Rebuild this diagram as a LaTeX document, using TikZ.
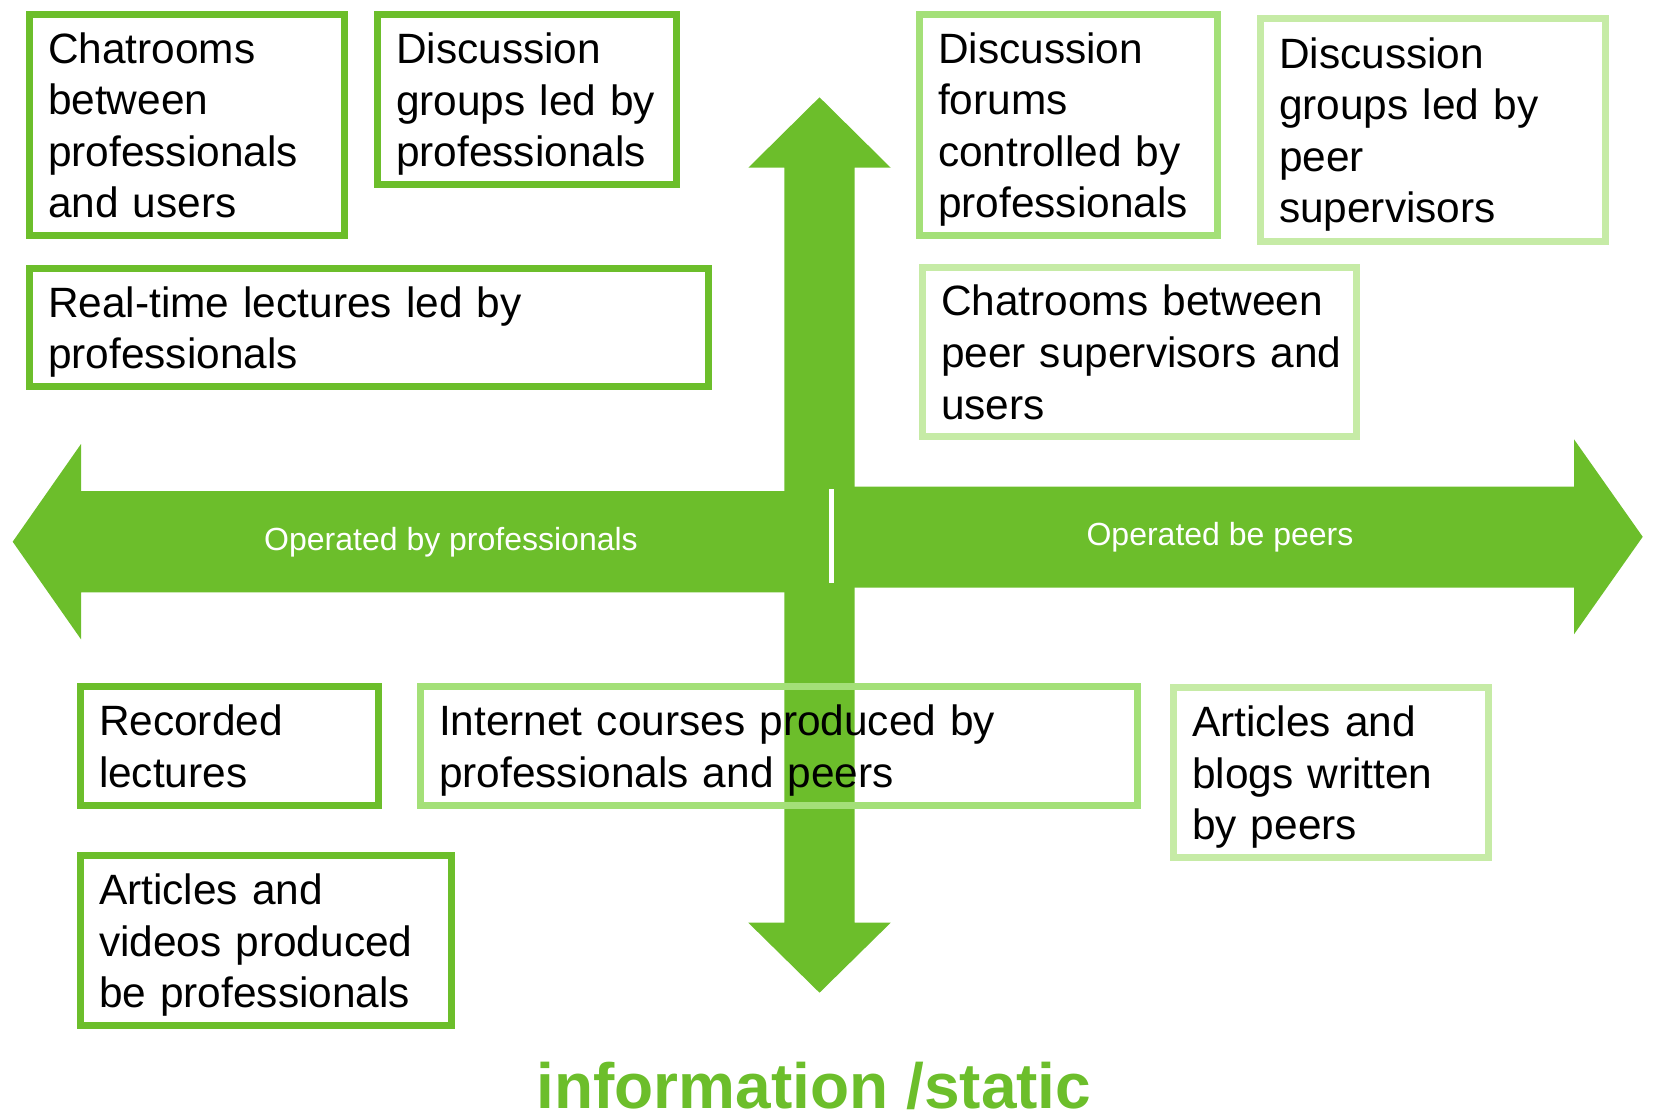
\documentclass[tikz,border=0pt]{standalone}
\usepackage{fontspec}
\setmainfont{Liberation Sans}

\definecolor{arrowGreen}{RGB}{108,190,43}
\definecolor{midGreen}{RGB}{164,224,120}
\definecolor{paleGreen}{RGB}{198,235,166}

\newcommand{\boxFont}{\fontsize{21.2pt}{25.8pt}\selectfont}
% same top and bottom line metrics in every box
\newcommand{\topRule}{\rule{0pt}{20.5pt}}
\newcommand{\botRule}{\rule[-5pt]{0pt}{5pt}}

\tikzset{
    itemBox/.style n args={3}{draw=#1, line width=3.5pt,
        minimum width={(#2-7)*0.5pt}, minimum height={(#3-7)*0.5pt},
        text width={(#2-44)*0.5pt}, inner xsep=9.25pt, inner ysep=0pt,
        align=left, font=\boxFont},
    axisLabel/.style={text=white, font=\fontsize{16pt}{19pt}\selectfont}
}

\begin{document}
\begin{tikzpicture}[x=0.5pt, y=-0.5pt]
    \useasboundingbox (0,0) rectangle (1653,1115);

    % Draw the vertical arrow
    \fill[arrowGreen] (784.3,167.7) -- (748.3,167.7) -- (819.5,97.3) -- (890.7,167.7)
        -- (854.7,167.7) -- (854.7,922.7) -- (890.7,922.7) -- (819.5,992.7)
        -- (748.3,922.7) -- (784.3,922.7) -- cycle;

    % Draw the horizontal arrows
    \fill[arrowGreen] (829,491) -- (81,491) -- (81,444) -- (12.7,541.7)
        -- (81,639.3) -- (81,592.3) -- (829,592.3) -- cycle;
    \fill[arrowGreen] (834,486.7) -- (1574,486.7) -- (1574,439.3) -- (1642.7,536.8)
        -- (1574,634.3) -- (1574,587.7) -- (834,587.7) -- cycle;
    \fill[white] (829,489) rectangle (834,583); % gap between the two arrows

    % Draw the arrow labels
    \node[axisLabel] (proLabel) at (451,542) {Operated by professionals};
    \node[axisLabel] (peerLabel) at (1220,537) {Operated be peers};

    % Define the positions of the boxes
    \coordinate (chatProPos) at (187,125);
    \coordinate (groupProPos) at (527,99.5);
    \coordinate (lecturePos) at (369,327.5);
    \coordinate (forumPos) at (1068.5,125);
    \coordinate (groupPeerPos) at (1433,130);
    \coordinate (chatPeerPos) at (1139.5,352);
    \coordinate (recordedPos) at (229.5,746);
    \coordinate (coursePos) at (779,746);
    \coordinate (blogPos) at (1331,772.5);
    \coordinate (videoPos) at (266,940.5);

    % Draw the boxes
    \node[itemBox={arrowGreen}{322}{228}] (chatPro) at (chatProPos)
        {\topRule Chatrooms\\between\\professionals\\and users\botRule};
    \node[itemBox={arrowGreen}{306}{177}] (groupPro) at (groupProPos)
        {\topRule Discussion\\groups led by\\professionals\botRule};
    \node[itemBox={arrowGreen}{686}{125}] (lecture) at (lecturePos)
        {\topRule Real-time lectures led by\\professionals\botRule};
    \node[itemBox={midGreen}{305}{228}] (forum) at (forumPos)
        {\topRule Discussion\\forums\\controlled by\\professionals\botRule};
    \node[itemBox={paleGreen}{352}{230}] (groupPeer) at (groupPeerPos)
        {\topRule Discussion\\groups led by\\peer\\supervisors\botRule};
    \node[itemBox={paleGreen}{441}{176}] (chatPeer) at (chatPeerPos)
        {\topRule Chatrooms between\\\mbox{peer supervisors and}\\users\botRule};
    \node[itemBox={arrowGreen}{305}{126}] (recorded) at (recordedPos)
        {\topRule Recorded\\lectures\botRule};
    \node[itemBox={midGreen}{724}{126}] (course) at (coursePos)
        {\topRule Internet courses produced by\\professionals and peers\botRule};
    \node[itemBox={paleGreen}{322}{177}] (blog) at (blogPos)
        {\topRule Articles and\\blogs written\\by peers\botRule};
    \node[itemBox={arrowGreen}{378}{177}] (video) at (videoPos)
        {\topRule Articles and\\videos produced\\be professionals\botRule};

    % Draw the bottom label
    \node[anchor=base, text=arrowGreen, font=\fontsize{32pt}{38pt}\selectfont\bfseries]
        (staticLabel) at (814,1108) {information /static};
\end{tikzpicture}
\end{document}
